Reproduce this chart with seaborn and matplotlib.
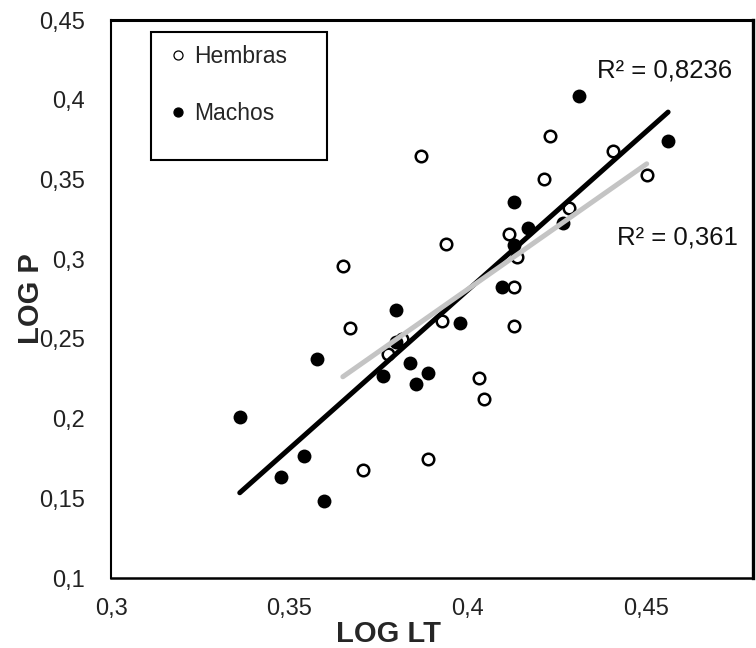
import numpy as np
import pandas as pd
import matplotlib
matplotlib.use("Agg")
import matplotlib.pyplot as plt
from matplotlib.lines import Line2D
from matplotlib.patches import Rectangle
import seaborn as sns

# ---- data ----
machos_lt = [0.3361, 0.3478, 0.3540, 0.3577, 0.3596, 0.3762, 0.3798, 0.3800, 0.3837, 0.3854,
             0.3888, 0.3979, 0.4096, 0.4131, 0.4131, 0.4168, 0.4266, 0.4313, 0.4562]
machos_p = [0.2008, 0.1631, 0.1765, 0.2373, 0.1484, 0.2267, 0.2680, 0.2482, 0.2346, 0.2215,
            0.2288, 0.2600, 0.2823, 0.3088, 0.3356, 0.3193, 0.3225, 0.4025, 0.3743]

hembras_lt = [0.3650, 0.3671, 0.3706, 0.3776, 0.3816, 0.3870, 0.3888, 0.3928, 0.3940, 0.4031,
              0.4047, 0.4115, 0.4131, 0.4131, 0.4139, 0.4215, 0.4231, 0.4283, 0.4408, 0.4502]
hembras_p = [0.2960, 0.2570, 0.1677, 0.2405, 0.2497, 0.3650, 0.1746, 0.2612, 0.3095, 0.2252,
             0.2122, 0.3157, 0.2823, 0.2580, 0.3015, 0.3503, 0.3772, 0.3322, 0.3680, 0.3528]

x_ticks = [0.3, 0.35, 0.4, 0.45]
x_tick_labels = ["0,3", "0,35", "0,4", "0,45"]
y_ticks = [0.1, 0.15, 0.2, 0.25, 0.3, 0.35, 0.4, 0.45]
y_tick_labels = ["0,1", "0,15", "0,2", "0,25", "0,3", "0,35", "0,4", "0,45"]
legend_labels = ["Hembras", "Machos"]
r2_machos = "R² = 0,8236"
r2_hembras = "R² = 0,361"

df_m = pd.DataFrame({"LT": machos_lt, "P": machos_p})
df_h = pd.DataFrame({"LT": hembras_lt, "P": hembras_p})

# ---- style ----
sns.set_style("white")
plt.rcParams["font.family"] = ["Liberation Sans", "DejaVu Sans"]

fig = plt.figure(figsize=(7.56, 6.48), dpi=100)
ax = fig.add_axes([111 / 756, 1 - 578 / 648, 642 / 756, 558 / 648])

# points
sns.scatterplot(data=df_h, x="LT", y="P", ax=ax, marker="o", s=69,
                facecolor="white", edgecolor="black", linewidth=1.8, zorder=3)
sns.scatterplot(data=df_m, x="LT", y="P", ax=ax, marker="o", s=100,
                color="black", edgecolor="black", linewidth=0, zorder=3)

# trend lines
sns.regplot(data=df_m, x="LT", y="P", ax=ax, scatter=False, ci=None, truncate=True,
            color="black", line_kws={"lw": 3.6, "zorder": 4, "solid_capstyle": "round"})
sns.regplot(data=df_h, x="LT", y="P", ax=ax, scatter=False, ci=None, truncate=True,
            color="#c4c4c4", line_kws={"lw": 3.6, "zorder": 5, "solid_capstyle": "round"})

ax.set_xlim(0.3, 0.48)
ax.set_ylim(0.1, 0.45)
ax.set_xticks(x_ticks)
ax.set_xticklabels(x_tick_labels)
ax.set_yticks(y_ticks)
ax.set_yticklabels(y_tick_labels)
ax.tick_params(axis="both", direction="out", length=6, width=1, color="#a8a8a8",
               labelsize=17, labelcolor="#222222")
ax.tick_params(axis="x", pad=8.5)
ax.tick_params(axis="y", pad=12.5)

for side, lw in [("left", 1.5), ("bottom", 1.8), ("top", 2.2), ("right", 2.4)]:
    ax.spines[side].set_visible(True)
    ax.spines[side].set_color("black")
    ax.spines[side].set_linewidth(lw)

ax.set_xlabel("LOG LT", fontsize=21, fontweight="bold")
ax.set_ylabel("LOG P", fontsize=21, fontweight="bold")
ax.xaxis.set_label_coords(0.433, -0.075)
ax.yaxis.set_label_coords(-0.103, 0.5)

# R² annotations
ax.text(0.757, 0.910, r2_machos, transform=ax.transAxes, ha="left", va="center",
        fontsize=18.5, color="#111111", clip_on=False)
ax.text(0.788, 0.611, r2_hembras, transform=ax.transAxes, ha="left", va="center",
        fontsize=18.5, color="#111111", clip_on=False)

# legend
handles = [
    Line2D([], [], ls="", marker="o", ms=6.5, mfc="white", mec="black", mew=0.9),
    Line2D([], [], ls="", marker="o", ms=6.5, mfc="black", mec="black", mew=0.9),
]
ax.legend(handles, legend_labels, loc="upper left", bbox_to_anchor=(0.0922, 0.955),
          frameon=False, fontsize=16.5, handlelength=0.7, handletextpad=0.33,
          labelspacing=1.5, borderpad=0, borderaxespad=0)
ax.add_patch(Rectangle((0.0618, 0.749), 0.3364 - 0.0618, 0.978 - 0.749,
                       transform=ax.transAxes, fill=False, ec="black", lw=1.5,
                       clip_on=False, zorder=6))

fig.savefig("out.png", dpi=100)
